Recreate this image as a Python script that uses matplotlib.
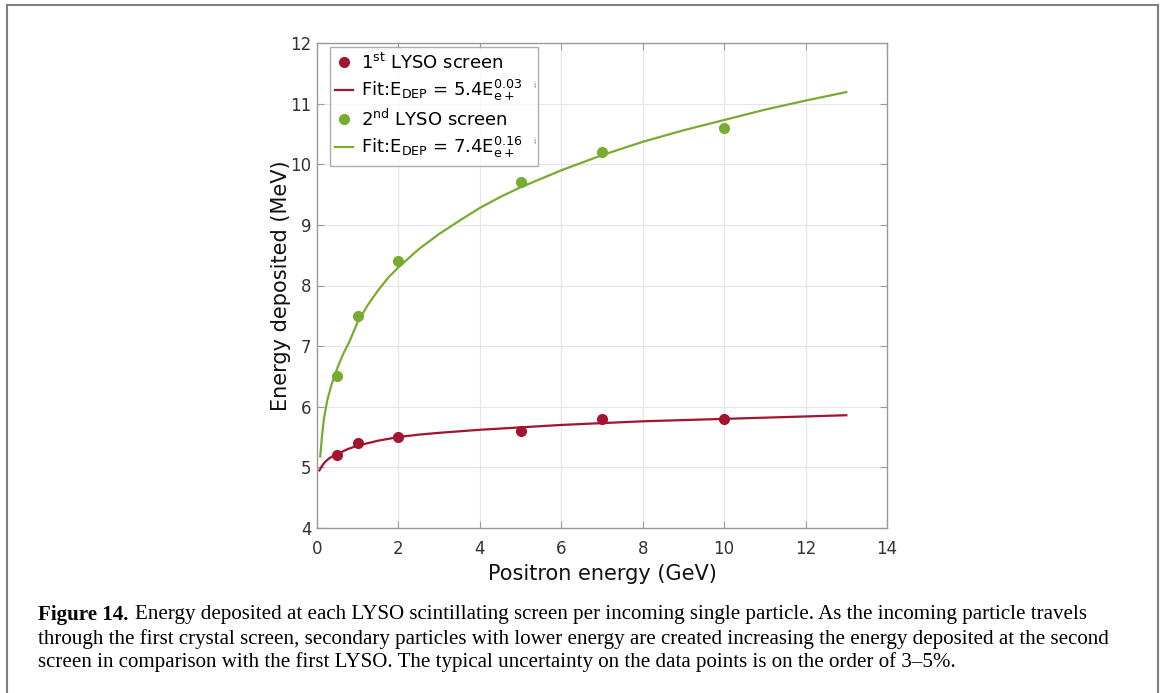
import matplotlib
matplotlib.use("Agg")
import matplotlib.pyplot as plt
from matplotlib.lines import Line2D

plt.rcParams['mathtext.fontset'] = 'dejavusans'
plt.rcParams['font.family'] = ['DejaVu Sans']

# data points
energy = [0.5, 1, 2, 5, 7, 10]
lyso1 = [5.2, 5.4, 5.5, 5.6, 5.8, 5.8]
lyso2 = [6.5, 7.5, 8.4, 9.7, 10.2, 10.6]

# fit curves
fit1_x = [0.06, 0.1, 0.15, 0.2, 0.3, 0.4, 0.5, 0.75, 1, 1.5, 2, 2.5, 3, 4, 5, 6, 7, 8, 9, 10, 11, 12, 13]
fit1_y = [4.95, 5.0, 5.05, 5.09, 5.15, 5.19, 5.22, 5.3, 5.36, 5.44, 5.5, 5.54, 5.57, 5.62,
          5.66, 5.7, 5.73, 5.76, 5.78, 5.8, 5.82, 5.84, 5.86]
fit2_x = [0.08, 0.12, 0.17, 0.25, 0.35, 0.5, 0.65, 0.8, 1, 1.25, 1.5, 1.75, 2, 2.5, 3, 3.5,
          4, 4.5, 5, 6, 7, 8, 9, 10, 11, 12, 13]
fit2_y = [5.18, 5.5, 5.8, 6.1, 6.35, 6.64, 6.88, 7.08, 7.4, 7.68, 7.92, 8.13, 8.3, 8.6,
          8.85, 9.07, 9.28, 9.46, 9.62, 9.9, 10.15, 10.37, 10.56, 10.73, 10.9, 11.05, 11.19]

labels = [r"1$^{\mathrm{st}}$ LYSO screen",
          r"Fit:E$_{\mathrm{DEP}}$ = 5.4E$_{\mathrm{e+}}^{0.03}$",
          r"2$^{\mathrm{nd}}$ LYSO screen",
          r"Fit:E$_{\mathrm{DEP}}$ = 7.4E$_{\mathrm{e+}}^{0.16}$"]

caption_bold = "Figure 14."
caption_lines = [
    "Energy deposited at each LYSO scintillating screen per incoming single particle. As the incoming particle travels",
    "through the first crystal screen, secondary particles with lower energy are created increasing the energy deposited at the second",
    "screen in comparison with the first LYSO. The typical uncertainty on the data points is on the order of 3\u20135%.",
]

red = '#A2142F'
green = '#77AC30'

W, H = 1163, 693
fig = plt.figure(figsize=(W / 100, H / 100), dpi=100)
ax = fig.add_axes([317/W, 1-528/H, (887-317)/W, (528-43)/H])

h1, = ax.plot(energy, lyso1, 'o', color=red, ms=7, ls='none')
h2, = ax.plot(fit1_x, fit1_y, '-', color=red, lw=1.6)
h3, = ax.plot(energy, lyso2, 'o', color=green, ms=7, ls='none')
h4, = ax.plot(fit2_x, fit2_y, '-', color=green, lw=1.6)

ax.set_xlim(0, 14)
ax.set_ylim(4, 12)
ax.set_xticks(range(0, 15, 2))
ax.set_yticks(range(4, 13))
ax.grid(True, color='#e6e6e6', lw=0.8)
ax.set_axisbelow(True)
ax.tick_params(direction='in', length=5, top=True, right=True, labelsize=12,
               colors='#9a9a9a', labelcolor='#333333', pad=4)
ax.tick_params(axis='x', pad=9)
for s in ax.spines.values():
    s.set_color('#9a9a9a')
    s.set_linewidth(1.0)
ax.set_xlabel('Positron energy (GeV)', fontsize=15, color='#111111', labelpad=4)
ax.set_ylabel('Energy deposited (MeV)', fontsize=15, color='#111111')
ax.yaxis.set_label_coords((291 - 317) / 570, 0.5)

x0 = (330 - 317) / 570
x1 = (538 - 317) / 570
ytop = (528 - 47) / 485
leg = ax.legend([h1, h2, h3, h4], labels, loc='upper left', fontsize=13,
                bbox_to_anchor=(x0, 0.0, x1 - x0, ytop), mode='expand',
                frameon=True, fancybox=False, edgecolor='#9a9a9a',
                borderaxespad=0.0, handlelength=1.0, handletextpad=0.4,
                labelspacing=0.3, borderpad=0.3)
leg.get_frame().set_linewidth(1.0)

# small stray marks inside the legend box (as in the source image)
for yy in (85, 141):
    fig.text(534/W, 1-yy/H, "i", fontsize=6, color='#888888', ha='center', va='center')

# page frame
fig.add_artist(Line2D([6.5/W, 6.5/W], [0, 1-4.5/H], color='#808080', lw=1.5))
fig.add_artist(Line2D([1157.5/W, 1157.5/W], [0, 1-4.5/H], color='#808080', lw=1.5))
fig.add_artist(Line2D([6.5/W, 1157.5/W], [1-4.5/H, 1-4.5/H], color='#808080', lw=1.5))

# caption
cap_font = ['Liberation Serif']
cfs = 15.1
ys = [615, 639, 662]
tb = fig.text(38/W, 1-ys[0]/H, caption_bold, fontsize=cfs, fontweight='bold',
              family=cap_font, va='center', ha='left')
fig.canvas.draw()
bb = tb.get_window_extent(renderer=fig.canvas.get_renderer())
start = (bb.x1 + 7) / W
fig.text(start, 1-ys[0]/H, caption_lines[0], fontsize=cfs, family=cap_font,
         va='center', ha='left')
for line, y in zip(caption_lines[1:], ys[1:]):
    fig.text(38/W, 1-y/H, line, fontsize=cfs, family=cap_font, va='center', ha='left')

fig.savefig('out.png', dpi=100)
